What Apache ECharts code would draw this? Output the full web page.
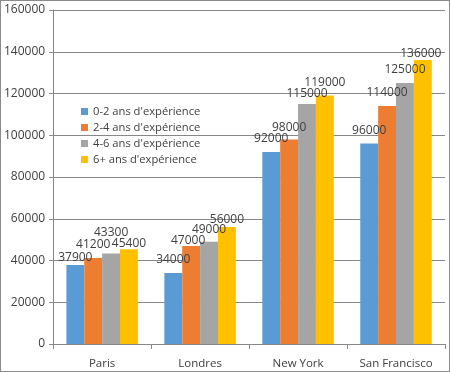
<!DOCTYPE html>
<html><head><meta charset="utf-8">
<script src="https://cdn.jsdelivr.net/npm/echarts@6/dist/echarts.min.js"></script>
<style>
html,body{margin:0;padding:0;background:#fff;}
#c{width:450px;height:372px;box-sizing:border-box;border:1px solid #8a8a8a;}
</style></head>
<body><div id="c"></div>
<script>
const categories = ['Paris', 'Londres', 'New York', 'San Francisco'];
const seriesNames = ["0-2 ans d'expérience", "2-4 ans d'expérience", "4-6 ans d'expérience", "6+ ans d'expérience"];
const s02 = [37900, 34000, 92000, 96000];
const s24 = [41200, 47000, 98000, 114000];
const s46 = [43300, 49000, 115000, 125000];
const s6p = [45400, 56000, 119000, 136000];
const yTicks = [0, 20000, 40000, 60000, 80000, 100000, 120000, 140000, 160000];
const colors = ['#5b9bd5', '#ed7d31', '#a5a5a5', '#ffc000'];

// label de-overlap tweaks (like Excel's automatic label placement): [dx, dy], one row per series, one entry per category
const labelNudge = [
  [[0, 0], [0, -6], [0, -6], [0, -6]],
  [[0, -6], [-3, 2], [0, -5], [0, -6]],
  [[0, -14], [0, -5], [0, -3], [0, -6]],
  [[0, 1], [0, -1], [0, -6], [-2, 0]]
];

const font = "'Open Sans', 'DejaVu Sans', sans-serif";
const chart = echarts.init(document.getElementById('c'), null, {renderer: 'canvas'});
const data = [s02, s24, s46, s6p];
chart.setOption({
  animation: false,
  textStyle: {fontFamily: font},
  grid: {left: 52, right: 4, top: 9, bottom: 27, containLabel: false},
  legend: {
    orient: 'vertical', left: 80, top: 105, padding: 0,
    itemWidth: 7, itemHeight: 7, itemGap: 5,
    icon: 'rect',
    textStyle: {fontSize: 11.2, color: '#404040', fontFamily: font},
    data: seriesNames
  },
  xAxis: {
    type: 'category', data: categories,
    axisLine: {lineStyle: {color: '#888'}},
    axisTick: {show: true, length: 5, lineStyle: {color: '#888'}},
    axisLabel: {fontSize: 11.5, color: '#404040', margin: 14}
  },
  yAxis: {
    type: 'value', min: yTicks[0], max: yTicks[yTicks.length - 1], interval: 20000,
    axisLine: {show: true, lineStyle: {color: '#888'}},
    axisTick: {show: true, length: 4, lineStyle: {color: '#888'}},
    axisLabel: {fontSize: 12, color: '#404040', margin: 8, formatter: v => String(v)},
    splitLine: {lineStyle: {color: '#888'}}
  },
  series: seriesNames.map((n, i) => ({
    name: n, type: 'bar',
    data: data[i].map((v, j) => ({value: v, label: {offset: labelNudge[i][j]}})),
    barGap: 0, barCategoryGap: '27%',
    itemStyle: {color: colors[i]},
    label: {show: true, position: 'top', fontSize: 12, color: '#404040', distance: 1}
  }))
});
</script></body></html>
